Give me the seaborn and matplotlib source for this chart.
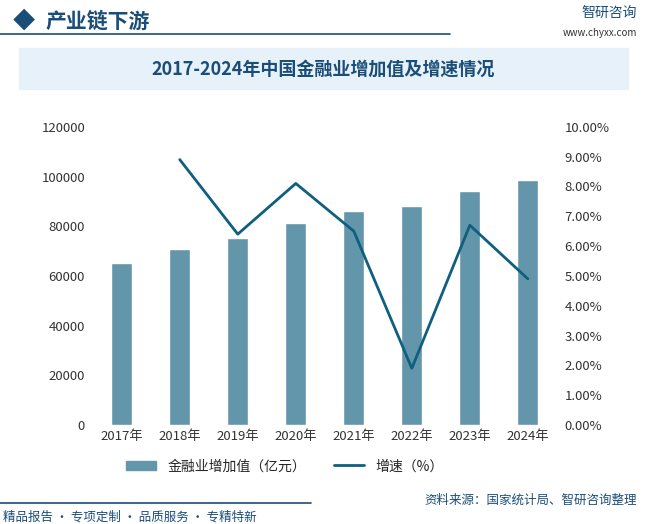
import matplotlib

matplotlib.use("Agg")
import matplotlib.pyplot as plt
import matplotlib.patches as mpatches
from matplotlib.lines import Line2D
import matplotlib.ticker as mticker
import pandas as pd
import seaborn as sns

plt.rcParams["font.family"] = ["Noto Sans CJK SC", "DejaVu Sans"]
sns.set_theme(style="white", rc={"font.family": ["Noto Sans CJK SC"]})

years = ["2017年", "2018年", "2019年", "2020年", "2021年", "2022年", "2023年", "2024年"]
value_added = [65000, 70800, 75200, 81100, 86300, 88000, 94300, 98600]  # 亿元
growth = [None, 8.9, 6.4, 8.1, 6.5, 1.9, 6.7, 4.9]  # %

BAR = "#6496ab"
LINE = "#0f5f7f"
DARK = "#1a4e78"

df = pd.DataFrame({"year": years, "value": value_added, "growth": growth})

fig = plt.figure(figsize=(6.47, 5.24), dpi=100)
ax = fig.add_axes([0.139, 0.189, 0.726, 0.569])
sns.barplot(data=df, x="year", y="value", color=BAR, width=0.36, ax=ax, saturation=1)
ax.set_ylim(0, 120000)
ax.yaxis.set_major_locator(mticker.MultipleLocator(20000))
ax.set_xlabel("")
ax.set_ylabel("")
for s in ax.spines.values():
    s.set_visible(False)
ax.tick_params(length=0, labelsize=9.5, colors="#333333")

ax2 = ax.twinx()
sns.lineplot(x=list(range(len(years))), y=df["growth"], color=LINE, lw=2, ax=ax2)
ax2.set_ylim(0, 10)
ax2.yaxis.set_major_locator(mticker.MultipleLocator(1))
ax2.yaxis.set_major_formatter(mticker.FuncFormatter(lambda v, p: f"{v:.2f}%"))
ax2.set_ylabel("")
for s in ax2.spines.values():
    s.set_visible(False)
ax2.tick_params(length=0, labelsize=9.5, colors="#333333")

handles = [mpatches.Patch(color=BAR, label="金融业增加值（亿元）"),
           Line2D([], [], color=LINE, lw=2, label="增速（%）")]
fig.legend(handles=handles, loc="center", bbox_to_anchor=(0.44, 0.11), ncol=2,
           frameon=False, fontsize=10, handlelength=2.2, columnspacing=2)

# header
fig.text(0.02, 0.96, "◆", color=DARK, fontsize=16, va="center")
fig.text(0.07, 0.96, "产业链下游", color=DARK, fontsize=15, va="center", weight="bold")
fig.add_artist(Line2D([0.0, 0.695], [0.935, 0.935], color=DARK, lw=1.2, transform=fig.transFigure))
fig.text(0.985, 0.975, "智研咨询", color=DARK, fontsize=10, ha="right", va="center")
fig.text(0.985, 0.937, "www.chyxx.com", color="#333333", fontsize=7, ha="right", va="center")

# title box
fig.patches.append(mpatches.Rectangle((0.03, 0.83), 0.94, 0.078, transform=fig.transFigure,
                                      color="#e6f1fa", zorder=0))
fig.text(0.5, 0.869, "2017-2024年中国金融业增加值及增速情况", color=DARK, fontsize=13,
         ha="center", va="center", weight="bold")

# footer
fig.add_artist(Line2D([0.0, 0.48], [0.04, 0.04], color=DARK, lw=1.2,
                      transform=fig.transFigure))
fig.text(0.985, 0.045, "资料来源：国家统计局、智研咨询整理", color=DARK, fontsize=9,
         ha="right", va="center")
fig.text(0.005, 0.013, "精品报告 · 专项定制 · 品质服务 · 专精特新", color=DARK, fontsize=9,
         va="center")

fig.savefig("out.png", dpi=100)
